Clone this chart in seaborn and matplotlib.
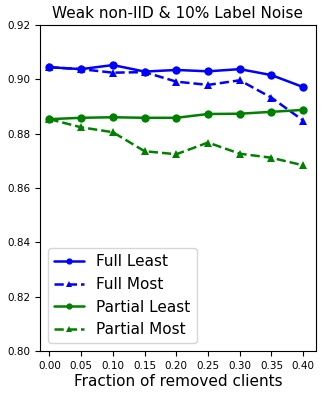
import numpy as np
import pandas as pd
import seaborn as sns
import matplotlib.pyplot as plt

sns.set_style("ticks", {"axes.edgecolor": "black", "text.color": "black",
                        "xtick.color": "black", "ytick.color": "black",
                        "axes.labelcolor": "black"})

fractions = [0.00, 0.05, 0.10, 0.15, 0.20, 0.25, 0.30, 0.35, 0.40]
full_least = [0.9044, 0.9037, 0.9052, 0.9028, 0.9034, 0.9029, 0.9037, 0.9015, 0.8971]
full_most = [0.9044, 0.9037, 0.9024, 0.9026, 0.8991, 0.8979, 0.8996, 0.8932, 0.8848]
partial_least = [0.8853, 0.8858, 0.8860, 0.8858, 0.8858, 0.8872, 0.8873, 0.8880, 0.8887]
partial_most = [0.8853, 0.8823, 0.8805, 0.8735, 0.8724, 0.8767, 0.8726, 0.8711, 0.8683]

series = [
    ("Full Least", full_least, "blue", "-", "o"),
    ("Full Most", full_most, "blue", "--", "^"),
    ("Partial Least", partial_least, "green", "-", "o"),
    ("Partial Most", partial_most, "green", "--", "^"),
]

fig, ax = plt.subplots(figsize=(3.22, 3.94), dpi=100)
for name, vals, color, ls, mk in series:
    df = pd.DataFrame({"x": fractions, "y": vals})
    sns.lineplot(data=df, x="x", y="y", ax=ax, color=color, linestyle=ls,
                 marker=mk, markersize=6, markeredgewidth=0, linewidth=1.8, label=name)

ax.set_ylim(0.80, 0.92)
ax.set_xlim(-0.015, 0.42)
ax.set_xticks(fractions)
ax.set_xticklabels([f"{f:.2f}" for f in fractions])
yt = np.arange(0.80, 0.921, 0.02)
ax.set_yticks(yt)
ax.set_yticklabels([f"{v:.2f}" for v in yt])
ax.tick_params(labelsize=7.5)
ax.set_title("Weak non-IID & 10% Label Noise", fontsize=11, pad=5)
ax.set_xlabel("Fraction of removed clients", fontsize=11, labelpad=2)
ax.set_ylabel("")
ax.legend(loc="lower left", fontsize=11, handlelength=2, markerscale=0.75)
fig.subplots_adjust(left=0.124, right=0.981, top=0.937, bottom=0.109)
fig.savefig("out.png", dpi=100)
